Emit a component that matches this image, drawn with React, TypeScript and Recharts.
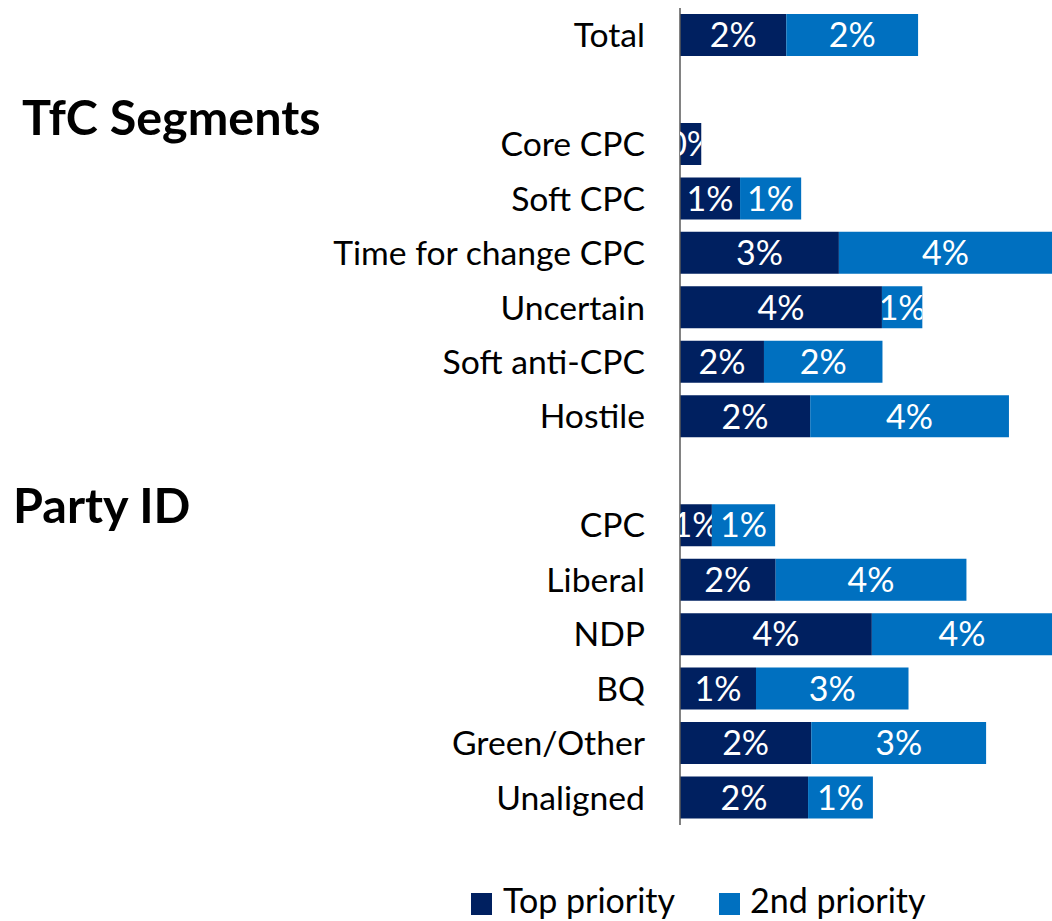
import React from 'react'
import { BarChart, Bar, XAxis, YAxis, LabelList } from 'recharts'

const categories = [
  'Total', '', 'Core CPC', 'Soft CPC', 'Time for change CPC', 'Uncertain', 'Soft anti-CPC', 'Hostile',
  '', 'CPC', 'Liberal', 'NDP', 'BQ', 'Green/Other', 'Unaligned',
]
const topPriority = [2.0, null, 0.4, 1.13, 2.99, 3.8, 1.58, 2.45, null, 0.6, 1.8, 3.61, 1.43, 2.47, 2.41]
const secondPriority = [2.48, null, 0, 1.15, 4.05, 0.76, 2.23, 3.74, null, 1.19, 3.59, 3.61, 2.87, 3.29, 1.22]

const DARK = '#002060'
const BLUE = '#0070C0'
const FONT = 'Lato, sans-serif'

const data = categories.map((name, i) => ({
  name,
  top: topPriority[i],
  second: secondPriority[i],
}))

const makeLabel = (key: string) => (props: any) => {
  const { x, y, width, height, value, index } = props
  if (value == null || !width) return null
  const id = `clip-${key}-${index}`
  return (
    <g>
      <defs>
        <clipPath id={id}>
          <rect x={x} y={y} width={width} height={height} />
        </clipPath>
      </defs>
      <text
        x={x + width / 2}
        y={y + height / 2}
        dy="0.36em"
        textAnchor="middle"
        fill="#fff"
        fontSize={34}
        fontFamily={FONT}
        clipPath={`url(#${id})`}
      >
        {Math.round(value)}%
      </text>
    </g>
  )
}

export default function App() {
  return (
    <div style={{ position: 'absolute', left: 0, top: 0, width: 1052, height: 921, background: '#fff' }}>
      <BarChart
        width={1052}
        height={921}
        data={data}
        layout="vertical"
        margin={{ top: 8, right: 0, bottom: 96, left: 0 }}
        barCategoryGap={6}
      >
        <XAxis type="number" domain={[0, 7]} allowDataOverflow hide />
        <YAxis
          type="category"
          dataKey="name"
          width={680}
          tickLine={false}
          tickSize={0}
          tickMargin={35}
          axisLine={{ stroke: '#595959', strokeWidth: 1.5 }}
          tick={{ fill: '#000', fontSize: 33.7, fontFamily: FONT }}
          interval={0}
        />
        <Bar dataKey="top" stackId="a" fill={DARK} isAnimationActive={false}>
          <LabelList dataKey="top" content={makeLabel('top')} />
        </Bar>
        <Bar dataKey="second" stackId="a" fill={BLUE} isAnimationActive={false}>
          <LabelList dataKey="second" content={makeLabel('second')} />
        </Bar>
      </BarChart>
      <svg
        width={1052}
        height={921}
        style={{ position: 'absolute', left: 0, top: 0, pointerEvents: 'none' }}
        fontFamily={FONT}
      >
        <text x={22} y={135} fontSize={48.5} fontWeight="bold" fill="#000">TfC Segments</text>
        <text x={13} y={523} fontSize={48.5} fontWeight="bold" fill="#000">Party ID</text>
        <rect x={471} y={893} width={21} height={22} fill={DARK} />
        <text x={503} y={913} fontSize={34} fill="#000">Top priority</text>
        <rect x={719} y={893} width={21} height={22} fill={BLUE} />
        <text x={750} y={913} fontSize={34} fill="#000">2nd priority</text>
      </svg>
    </div>
  )
}
